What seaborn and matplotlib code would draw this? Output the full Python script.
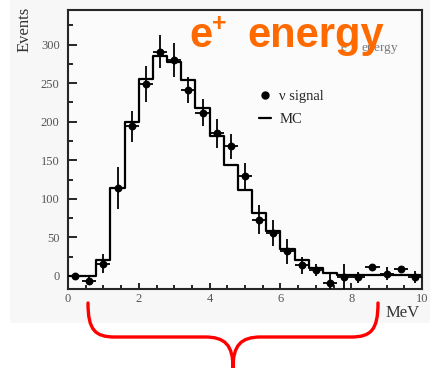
import numpy as np
import pandas as pd
import seaborn as sns
import matplotlib.pyplot as plt
from matplotlib.path import Path
from matplotlib.patches import PathPatch, Rectangle
from matplotlib.lines import Line2D

# e+ energy spectrum: data points (bin centres, MeV) and MC histogram
energy = [0.2, 0.6, 1.0, 1.4, 1.8, 2.2, 2.6, 3.0, 3.4, 3.8, 4.2, 4.6, 5.0,
          5.4, 5.8, 6.2, 6.6, 7.0, 7.4, 7.8, 8.2, 8.6, 9.0, 9.4, 9.8]
signal = [0, -6, 16, 114, 194, 249, 291, 280, 241, 212, 185, 168, 129,
          73, 56, 32, 14, 8, -9, -1, -2, 12, 3, 9, -1]
signal_err = [0, 5, 12, 27, 20, 23, 21, 22, 17, 18, 19, 16, 17,
              19, 17, 16, 11, 8, 12, 16, 7, 3, 8, 3, 8]
mc = [0, 0, 20, 114, 200, 256, 285, 278, 254, 218, 181, 144, 112,
      81, 58, 35, 21, 10, 4, 1, 1, 1, 1, 1, 1]
bin_width = 0.4
edges = [round(i * bin_width, 2) for i in range(len(energy) + 1)]

df = pd.DataFrame({'energy': energy, 'signal': signal, 'mc': mc})

W, H = 431, 374
sns.set_style('ticks')
plt.rcParams['font.family'] = ['Liberation Serif', 'DejaVu Serif']

fig = plt.figure(figsize=(W / 100, H / 100), dpi=100)


def px(x, y):
    return (x / W, 1 - y / H)


# scanned-looking light grey backdrop
fig.patches.append(Rectangle(px(10, 323), 421 / W, 323 / H, transform=fig.transFigure,
                             facecolor='#f7f7f7', edgecolor='none', zorder=-5))

ax = fig.add_axes([68 / W, 1 - 289 / H, 354 / W, 279 / H])
ax.set_facecolor('#fbfbfb')

sns.histplot(data=df, x='energy', weights='mc', bins=edges, element='step', fill=False,
             color='black', linewidth=1.6, ax=ax)
ax.errorbar(energy, signal, yerr=signal_err, xerr=bin_width / 2, fmt='none',
            ecolor='black', elinewidth=1.3, capsize=0, zorder=3)
sns.scatterplot(data=df, x='energy', y='signal', color='black', s=32, edgecolor='black',
                linewidth=0, zorder=4, ax=ax)

ax.set_xlim(0, 10)
ax.set_ylim(-17, 345)
ax.set_xticks([0, 2, 4, 6, 8, 10])
ax.set_xticks(np.arange(0, 10.01, 0.5), minor=True)
ax.set_yticks([0, 50, 100, 150, 200, 250, 300])
ax.set_yticks(np.arange(25, 345, 50), minor=True)
ax.tick_params(which='both', direction='in', width=1.2, colors='black',
               labelcolor='#555555', labelsize=9)
ax.tick_params(axis='y', which='major', length=6.5, pad=6)
ax.tick_params(axis='y', which='minor', length=3.5)
ax.tick_params(axis='x', which='major', length=4.5, pad=3)
ax.tick_params(axis='x', which='minor', length=3)
for s in ax.spines.values():
    s.set_linewidth(1.5)
ax.set_xlabel('')
ax.set_ylabel('')

fig.text(25 / W, 1 - 7 / H, 'Events', rotation=90, ha='center', va='top',
         fontsize=12, color='#333333')
fig.text(403 / W, 1 - 313 / H, 'MeV', ha='center', va='center',
         fontsize=12, color='#333333')

handles = [Line2D([], [], marker='o', color='black', linestyle='none', markersize=5),
           Line2D([], [], color='black', linewidth=1.6)]
ax.legend(handles, ['ν signal', 'MC'], loc='upper left',
          bbox_to_anchor=((259 - 68) / 354, (289 - 90) / 279), frameon=False,
          fontsize=10.5, handlelength=0.8, handletextpad=0.6, labelspacing=0.65,
          borderaxespad=0, borderpad=0)

# faint original caption, mostly hidden behind the orange title
fig.text(370 / W, 1 - 49 / H, 'e$^+$ energy', ha='center', va='center',
         fontsize=9.5, color='#777777')

orange = '#ff6a00'
fig.text(189 / W, 1 - 47 / H, 'e', fontsize=30, fontweight='bold', color=orange,
         family='Liberation Sans', ha='left', va='baseline')
fig.text(212 / W, 1 - 31 / H, '+', fontsize=18, fontweight='bold', color=orange,
         family='Liberation Sans', ha='left', va='baseline')
fig.text(247 / W, 1 - 47 / H, 'energy', fontsize=30, fontweight='bold', color=orange,
         family='Liberation Sans', ha='left', va='baseline')

# red curly brace under the axis
verts = [(88, 303), (88, 330), (95, 337), (115, 337),
         (205, 337),
         (225, 337), (233, 345), (233, 368),
         (233, 345), (241, 337), (261, 337),
         (351, 337),
         (371, 337), (378, 330), (378, 303)]
codes = [Path.MOVETO, Path.CURVE4, Path.CURVE4, Path.CURVE4,
         Path.LINETO,
         Path.CURVE4, Path.CURVE4, Path.CURVE4,
         Path.CURVE4, Path.CURVE4, Path.CURVE4,
         Path.LINETO,
         Path.CURVE4, Path.CURVE4, Path.CURVE4]
brace = Path([px(x, y) for x, y in verts], codes)
fig.patches.append(PathPatch(brace, transform=fig.transFigure, facecolor='none',
                             edgecolor='#ff0000', linewidth=2.4, capstyle='round'))

fig.savefig('out.png', dpi=100)
